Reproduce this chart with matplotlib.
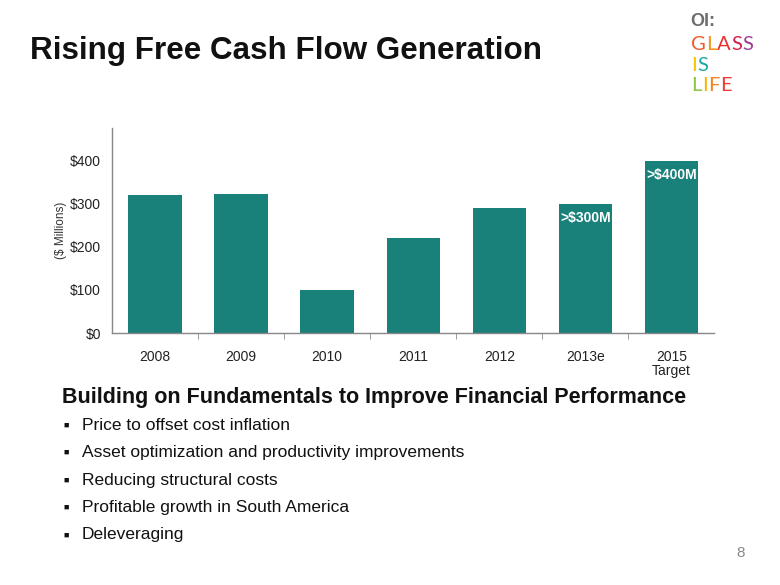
import matplotlib
matplotlib.use("Agg")
import matplotlib.pyplot as plt
import numpy as np

plt.rcParams['font.family'] = ['Liberation Sans', 'DejaVu Sans']

categories = ["2008", "2009", "2010", "2011", "2012", "2013e", "2015\nTarget"]
values = [320, 322, 100, 220, 290, 300, 400]
bar_labels = ["", "", "", "", "", ">$300M", ">$400M"]
yticks = [0, 100, 200, 300, 400]
ytick_labels = ["$0", "$100", "$200", "$300", "$400"]
bullets = ["Price to offset cost inflation",
           "Asset optimization and productivity improvements",
           "Reducing structural costs",
           "Profitable growth in South America",
           "Deleveraging"]

W, H = 780, 585
fig = plt.figure(figsize=(7.8, 5.85), dpi=100)
fig.patch.set_facecolor("white")

def fx(px): return px / W
def fy(py): return 1 - py / H

ax = fig.add_axes([fx(112), fy(333), fx(714.5) - fx(112), fy(128) - fy(333)])
x = np.arange(len(categories))
bar_color = "#19807A"
ax.bar(x, values, width=0.62, color=bar_color, zorder=2)
ax.set_xlim(-0.5, len(categories) - 0.5)
ax.set_ylim(0, 476)
ax.set_yticks(yticks)
ax.set_yticklabels(ytick_labels, fontsize=10, color="#222222")
ax.tick_params(axis="y", length=0, pad=8)
ax.set_xticks(x)
ax.set_xticklabels(categories, fontsize=10, color="#222222", linespacing=1.05)
ax.tick_params(axis="x", which="major", length=0, pad=12)
ax.set_xticks(np.arange(-0.5, len(categories) - 0.4, 1.0)[1:-1], minor=True)
ax.tick_params(axis="x", which="minor", length=4, color="#888888", direction="out")
for s in ["top", "right"]:
    ax.spines[s].set_visible(False)
for s in ["left", "bottom"]:
    ax.spines[s].set_color("#888888")
    ax.spines[s].set_linewidth(1)
ax.set_ylabel("($ Millions)", fontsize=8.5, color="#333333", labelpad=2)

# bar labels placed 14 px below bar top
to_px = fig.dpi / 72.0
for xi, v, lab in zip(x, values, bar_labels):
    if lab:
        ax.annotate(lab, xy=(xi, v), xytext=(0, -14 / to_px), textcoords="offset points",
                    ha="center", va="center", color="white",
                    fontsize=10, fontweight="bold", zorder=3)

# Title
fig.text(fx(30), fy(51), "Rising Free Cash Flow Generation", fontsize=22.6,
         fontweight="bold", color="#111111", ha="left", va="center")

# Heading and bullets
fig.text(fx(62), fy(398), "Building on Fundamentals to Improve Financial Performance",
         fontsize=15.5, fontweight="bold", color="#111111", ha="left", va="center")
for i, b in enumerate(bullets):
    yy = 425 + i * 27.5
    fig.text(fx(66.5), fy(yy), "\u25a0", fontsize=6.5, color="#111111", ha="center", va="center")
    fig.text(fx(82), fy(yy), b, fontsize=12.5, color="#111111", ha="left", va="center")

# Page number
fig.text(fx(741), fy(553), "8", fontsize=11, color="#888888", ha="center", va="center")

# Logo
fig.canvas.draw()
renderer = fig.canvas.get_renderer()
fig.text(fx(690), fy(21), "OI:", fontsize=13, fontweight="bold", color="#6d6d6d",
         ha="left", va="center")
logo_rows = [
    (44, [("G", "#F05A28"), ("L", "#F7941D"), ("A", "#E8312F"), ("S", "#D11F50"), ("S", "#9B3C97")]),
    (65.5, [("I", "#F5C400"), ("S", "#1FA6A0")]),
    (85.5, [("L", "#8DC63F"), ("I", "#F5B800"), ("F", "#F58220"), ("E", "#EE3B33")]),
]
for yy, letters in logo_rows:
    xx = 691
    for ch, col in letters:
        t = fig.text(fx(xx), fy(yy), ch, fontsize=14.5, color=col, ha="left", va="center",
                     family="Lato")
        bb = t.get_window_extent(renderer=renderer)
        xx += bb.width + 0.5
fig.savefig("out.png", dpi=100)
